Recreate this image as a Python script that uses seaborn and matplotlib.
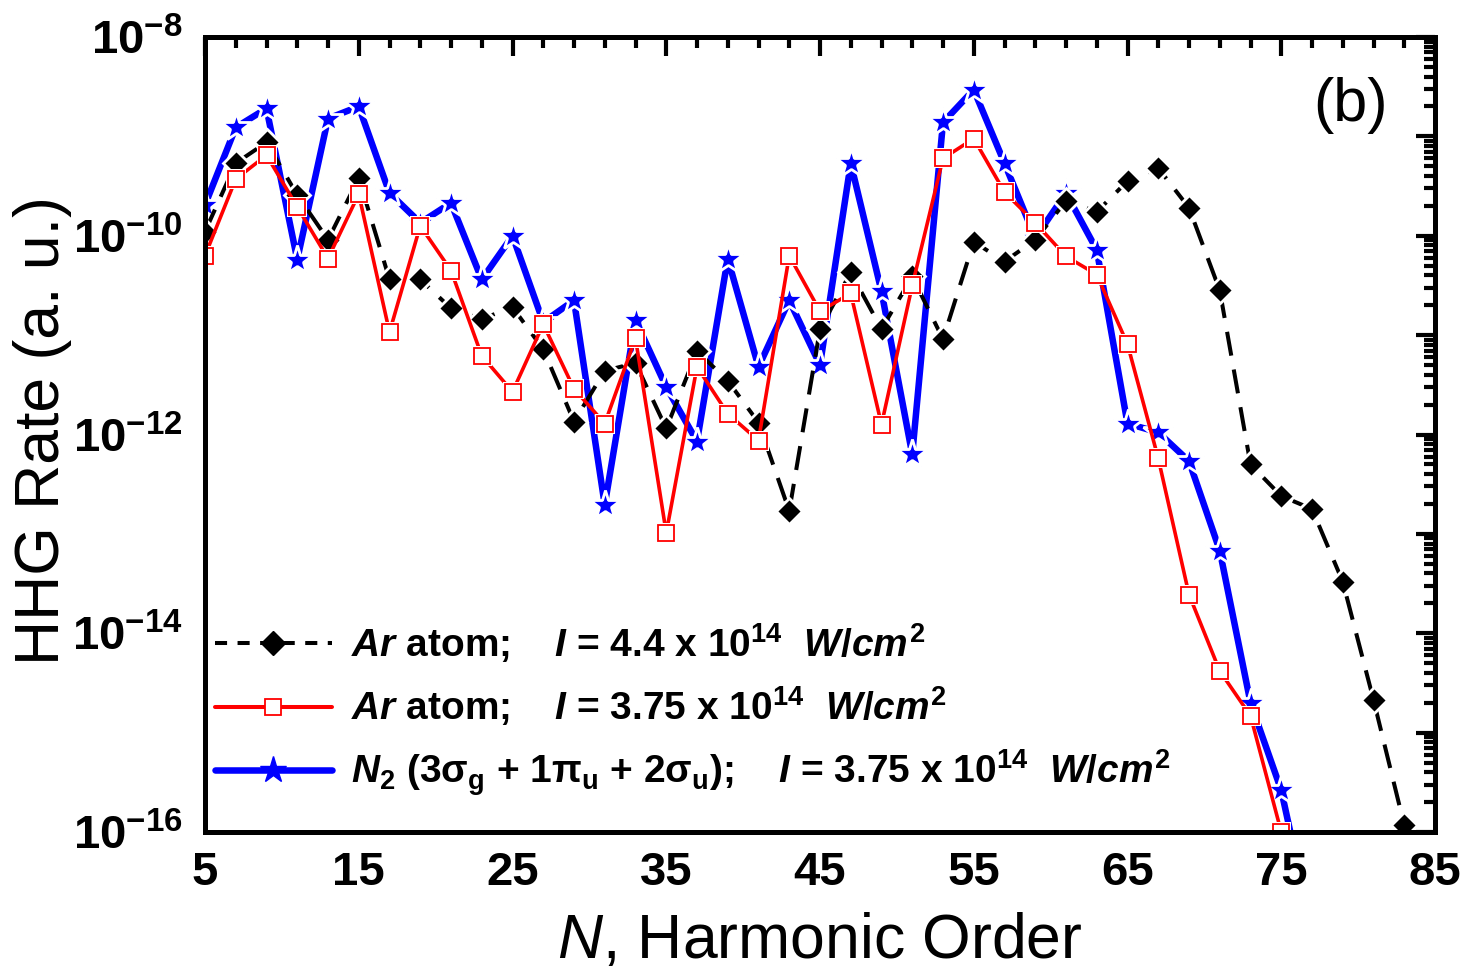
import matplotlib
matplotlib.use("Agg")
import matplotlib.pyplot as plt
import seaborn as sns
import pandas as pd
from matplotlib import font_manager
from matplotlib.lines import Line2D
from matplotlib.ticker import FixedLocator, LogLocator, FuncFormatter, NullFormatter
import numpy as np

# ---------------- data ----------------
harm_ar44 = [5, 7, 9, 11, 13, 15, 17, 19, 21, 23, 25, 27, 29, 31, 33, 35, 37, 39, 41, 43,
             45, 47, 49, 51, 53, 55, 57, 59, 61, 63, 65, 67, 69, 71, 73, 75, 77, 79, 81, 83]
rate_ar44 = [1.10e-10, 5.37e-10, 8.71e-10, 2.57e-10, 9.1e-11, 3.80e-10, 3.63e-11, 3.63e-11,
             1.86e-11, 1.45e-11, 1.91e-11, 7.2e-12, 1.35e-12, 4.37e-12, 5.25e-12, 1.15e-12,
             6.9e-12, 3.47e-12, 1.32e-12, 1.70e-13, 1.15e-11, 4.27e-11, 1.15e-11, 3.89e-11,
             9.1e-12, 8.7e-11, 5.5e-11, 9.1e-11, 2.24e-10, 1.74e-10, 3.55e-10, 4.79e-10,
             1.91e-10, 2.82e-11, 5.0e-13, 2.40e-13, 1.78e-13, 3.3e-14, 2.14e-15, 1.17e-16]

harm_ar375 = [5, 7, 9, 11, 13, 15, 17, 19, 21, 23, 25, 27, 29, 31, 33, 35, 37, 39, 41, 43,
              45, 47, 49, 51, 53, 55, 57, 59, 61, 63, 65, 67, 69, 71, 73, 75]
rate_ar375 = [6.3e-11, 3.72e-10, 6.46e-10, 1.95e-10, 5.9e-11, 2.63e-10, 1.07e-11, 1.26e-10,
              4.47e-11, 6.2e-12, 2.69e-12, 1.29e-11, 2.88e-12, 1.29e-12, 9.3e-12, 1.02e-13,
              4.79e-12, 1.62e-12, 8.7e-13, 6.3e-11, 1.74e-11, 2.63e-11, 1.26e-12, 3.16e-11,
              6.0e-10, 9.5e-10, 2.75e-10, 1.35e-10, 6.2e-11, 4.07e-11, 8.1e-12, 5.75e-13,
              2.45e-14, 4.17e-15, 1.48e-15, 1.0e-16]

harm_n2 = [5, 7, 9, 11, 13, 15, 17, 19, 21, 23, 25, 27, 29, 31, 33, 35, 37, 39, 41, 43,
           45, 47, 49, 51, 53, 55, 57, 59, 61, 63, 65, 67, 69, 71, 73, 75, 77]
rate_n2 = [2.04e-10, 1.23e-9, 1.91e-9, 5.75e-11, 1.51e-9, 2.0e-9, 2.69e-10, 1.35e-10,
           2.14e-10, 3.63e-11, 1.0e-10, 1.35e-11, 2.24e-11, 1.95e-13, 1.41e-11, 3.0e-12,
           8.5e-13, 5.9e-11, 4.79e-12, 2.24e-11, 5.0e-12, 5.37e-10, 2.75e-11, 6.3e-13,
           1.38e-9, 2.95e-9, 5.37e-10, 9.5e-11, 2.69e-10, 7.2e-11, 1.29e-12, 1.05e-12,
           5.4e-13, 6.8e-14, 2.0e-15, 2.63e-16, 1.0e-17]

label_ar44 = r'$\mathit{Ar}$ atom;    $\mathit{I}$ = 4.4 x 10$^{14}$  $\mathit{W}$/$\mathit{cm}^{2}$'
label_ar375 = r'$\mathit{Ar}$ atom;    $\mathit{I}$ = 3.75 x 10$^{14}$  $\mathit{W}$/$\mathit{cm}^{2}$'
label_n2 = (r'$\mathit{N}_{\mathrm{2}}$ (3$\mathrm{\sigma}_{\mathrm{g}}$ + 1$\mathrm{\pi}_{\mathrm{u}}$'
            r' + 2$\mathrm{\sigma}_{\mathrm{u}}$);    $\mathit{I}$ = 3.75 x 10$^{14}$  '
            r'$\mathit{W}$/$\mathit{cm}^{2}$')

x_ticks = [5, 15, 25, 35, 45, 55, 65, 75, 85]

# ---------------- style ----------------
sns.set_theme(style="white")
names = {f.name for f in font_manager.fontManager.ttflist}
base = "Liberation Sans" if "Liberation Sans" in names else "DejaVu Sans"
narrow = "Liberation Sans Narrow" if "Liberation Sans Narrow" in names else base
plt.rcParams["font.family"] = [base, "DejaVu Sans"]
plt.rcParams["mathtext.fontset"] = "custom"
plt.rcParams["mathtext.rm"] = f"{narrow}:bold"
plt.rcParams["mathtext.it"] = f"{narrow}:italic:bold"
plt.rcParams["mathtext.bf"] = f"{base}:bold"
plt.rcParams["mathtext.sf"] = f"{base}:italic"
plt.rcParams["axes.unicode_minus"] = False
for key in ["text.color", "axes.labelcolor", "xtick.color", "ytick.color",
            "xtick.labelcolor", "ytick.labelcolor", "axes.edgecolor"]:
    plt.rcParams[key] = "black"

fig = plt.figure(figsize=(14.6, 9.68), dpi=100)
ax = fig.add_axes([205 / 1460, 1 - 832 / 968, 1230 / 1460, 795 / 968])

BLACK, RED, BLUE = "#000000", "#FF0000", "#0000FF"

# blue N2 (bottom)
sns.lineplot(x=harm_n2, y=rate_n2, ax=ax, color=BLUE, lw=4.7, marker="*", ms=22,
             mfc=BLUE, mec="white", mew=2.0, zorder=2)
# black Ar 4.4
sns.lineplot(x=harm_ar44, y=rate_ar44, ax=ax, color=BLACK, lw=2.9, linestyle=(0, (6.0, 3.5)),
             marker="D", ms=13, mfc=BLACK, mec="white", mew=2.0, zorder=3)
# red Ar 3.75 : line with white halo squares, then open red squares on top
sns.lineplot(x=harm_ar375, y=rate_ar375, ax=ax, color=RED, lw=2.6,
             marker="s", ms=14.5, mfc="white", mec="white", mew=0, zorder=4)
sns.lineplot(x=harm_ar375, y=rate_ar375, ax=ax, color=RED, lw=0,
             marker="s", ms=11.5, mfc="white", mec=RED, mew=1.3, zorder=4.1)

ax.set_yscale("log")
ax.set_xlim(5, 85)
ax.set_ylim(1e-16, 1e-8)

# ticks
ax.xaxis.set_major_locator(FixedLocator(x_ticks))
ax.xaxis.set_minor_locator(FixedLocator(list(range(5, 86, 2))))
ax.yaxis.set_major_locator(LogLocator(base=10, numticks=30))
ax.yaxis.set_minor_locator(LogLocator(base=10, subs=np.arange(2, 10), numticks=30))
ax.yaxis.set_minor_formatter(NullFormatter())


def yfmt(v, pos):
    e = int(round(np.log10(v)))
    if e % 2 != 0:
        return ""
    return r"$\mathbf{10^{%d}}$" % e


ax.yaxis.set_major_formatter(FuncFormatter(yfmt))
ax.tick_params(which="both", direction="in", top=True, right=True, width=3,
               color="black", labelcolor="black")
ax.tick_params(which="major", length=14)
ax.tick_params(which="minor", length=8)
ax.tick_params(axis="x", which="major", pad=14, labelsize=34)
ax.tick_params(axis="y", which="major", pad=16, labelsize=34)
ax.set_xticklabels([str(t) for t in x_ticks], fontweight="bold", fontsize=34, color="black")

for s in ax.spines.values():
    s.set_linewidth(3.6)
    s.set_color("black")
    s.set_zorder(10)

ax.set_xlabel(r"$\mathsf{N}$, Harmonic Order", fontsize=45, color="black")
ax.set_ylabel("HHG Rate (a. u.)", fontsize=45, color="black")
ax.xaxis.set_label_coords(0.5, -0.1)
ax.yaxis.set_label_coords(-0.108, 0.505)

ax.text(0.931, 0.914, "(b)", transform=ax.transAxes, fontsize=44, ha="center", va="center",
        color="black")

handles = [
    Line2D([], [], color=BLACK, lw=2.9, linestyle=(0, (3.0, 2.6)), marker="D", ms=12,
           mfc=BLACK, mec=BLACK),
    Line2D([], [], color=RED, lw=2.9, marker="s", ms=12, mfc="white", mec=RED, mew=1.3),
    Line2D([], [], color=BLUE, lw=4.7, marker="*", ms=20, mfc=BLUE, mec=BLUE),
]
leg = ax.legend(handles, [label_ar44, label_ar375, label_n2], loc="upper left",
                bbox_to_anchor=(0.008, 0.265), frameon=False, borderpad=0, borderaxespad=0,
                handlelength=3.0, handletextpad=0.5, labelspacing=0.5,
                prop={"family": narrow, "weight": "bold", "size": 28})
for t in leg.get_texts():
    t.set_color("black")

fig.savefig("out.png", dpi=100)
